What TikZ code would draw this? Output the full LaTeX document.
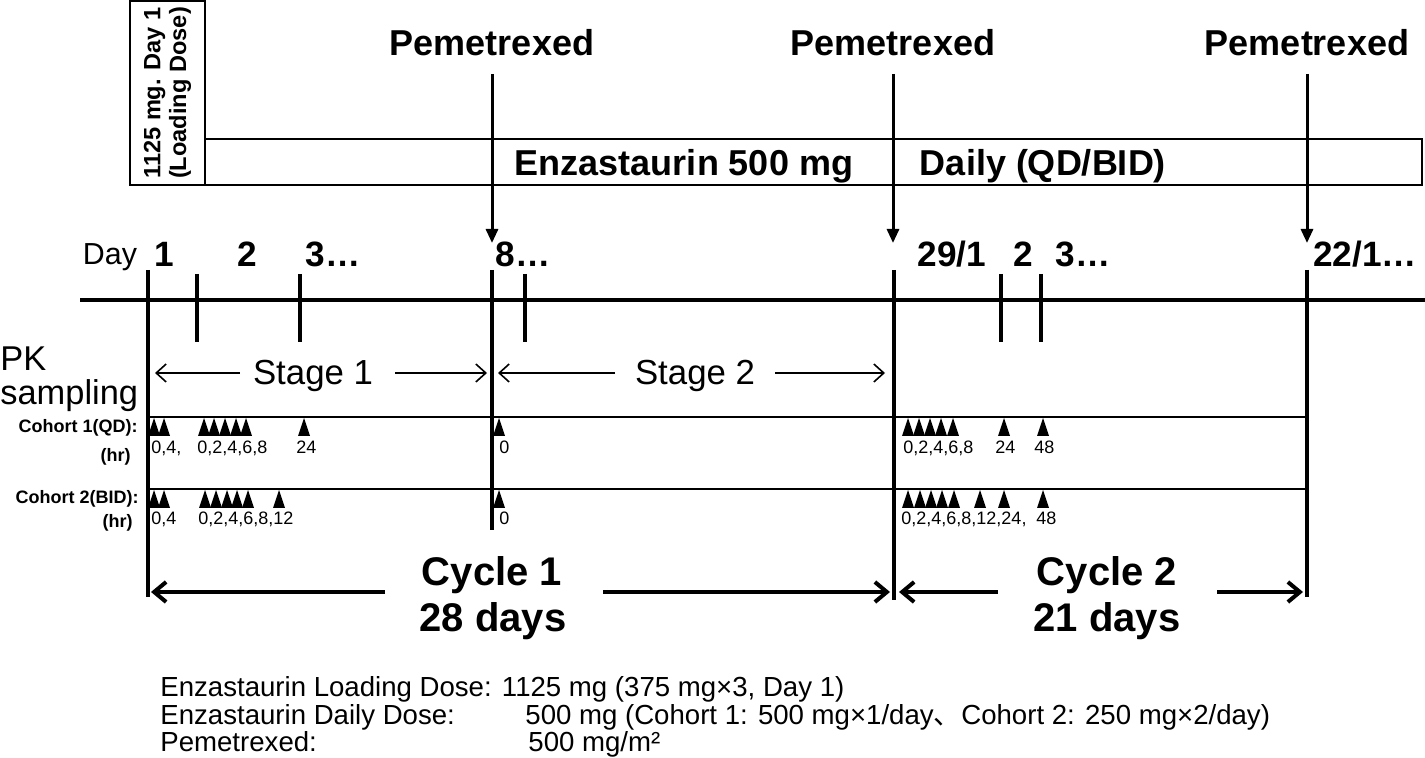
\documentclass[tikz,border=0pt]{standalone}
\usepackage{fontspec}
\setmainfont{Liberation Sans}
\newfontfamily\cjkfont{Noto Sans CJK JP}
\usetikzlibrary{arrows.meta,positioning}

\begin{document}
\begin{tikzpicture}[x=0.5pt, y=-0.5pt,
    lbl/.style={inner sep=0pt, anchor=base},
    headlbl/.style={lbl, font=\fontsize{18}{21}\selectfont\bfseries},
    daylbl/.style={lbl, font=\fontsize{17.6}{21}\selectfont\bfseries},
    plainlbl/.style={lbl, font=\fontsize{17.4}{21}\selectfont},
    cyclbl/.style={lbl, font=\fontsize{20}{24}\selectfont\bfseries},
    cohortlbl/.style={lbl, anchor=base east, font=\fontsize{9}{11}\selectfont\bfseries},
    hrlbl/.style={lbl, anchor=base west, font=\fontsize{9}{11}\selectfont},
    notelbl/.style={lbl, anchor=base west, font=\fontsize{13.8}{16}\selectfont},
    axisline/.style={line width=2pt},
    dayline/.style={line width=1.8pt},
    rowline/.style={line width=0.6pt},
    pemarrow/.style={line width=1.5pt, -{Triangle[length=7pt, width=6pt]}},
    stagearrow/.style={line width=0.8pt, -{Straight Barb[length=5pt, width=9pt]}},
    cycarrow/.style={line width=2pt, -{Straight Barb[length=6pt, width=10pt]}},
    sample/.style={fill=black}]
  \useasboundingbox (0,0) rectangle (1425,758);

  % dosing bars
  \node[draw, line width=1pt, rotate=90, minimum width=92pt, minimum height=37.5pt,
        inner sep=0pt, align=center, font=\fontsize{11.8}{12.8}\selectfont\bfseries]
        (load) at (167.5,93) {1125 mg. Day 1\\(Loading Dose)};
  \node[draw, line width=1pt, minimum width=608.5pt, minimum height=23pt, inner sep=0pt]
        (enza) at (813.5,162) {};
  \node[headlbl] (enzatxt) at (684,176) {Enzastaurin 500 mg};
  \node[headlbl] (dailytxt) at (1043,176) {Daily (QD/BID)};

  % pemetrexed doses
  \foreach \n/\x in {1/492,2/893,3/1307} {
    \node[headlbl] (pem\n) at (\x,56) {Pemetrexed};
    \coordinate (pemtop\n) at (\x,74);
    \coordinate (pemtip\n) at (\x,243);
    \draw[pemarrow] (pemtop\n) -- (pemtip\n);
  }

  % time axis
  \coordinate (axl) at (80,300);
  \coordinate (axr) at (1425,300);
  \draw[axisline] (axl) -- (axr);
  \foreach \n/\x/\yb in {c1/148/597, s2/492/530, c2/894/600, c3/1307/597} {
    \coordinate (\n top) at (\x,270);
    \coordinate (\n bot) at (\x,\yb);
    \draw[dayline] (\n top) -- (\n bot);
  }
  \foreach \n/\x in {a/197, b/300, c/525, d/1001, e/1041} {
    \coordinate (tk\n top) at (\x,274);
    \coordinate (tk\n bot) at (\x,342);
    \draw[dayline] (tk\n top) -- (tk\n bot);
  }

  % day labels
  \node[lbl, font=\fontsize{15.2}{18}\selectfont] (day) at (110,265) {Day};
  \node[daylbl] (d1) at (164,267) {1};
  \node[daylbl] (d2) at (247,267) {2};
  \node[daylbl] (d3) at (333,267) {3…};
  \node[daylbl] (d8) at (523,267) {8…};
  \node[daylbl] (d29) at (952,267) {29/1};
  \node[daylbl] (d2b) at (1023,267) {2};
  \node[daylbl] (d3b) at (1083,267) {3…};
  \node[daylbl] (d22) at (1365,267) {22/1…};

  % PK sampling
  \node[lbl, anchor=base west, font=\fontsize{17.2}{21}\selectfont] (pk) at (0,371) {PK};
  \node[lbl, anchor=base west, font=\fontsize{17.2}{21}\selectfont] (sampling) at (0,405) {sampling};
  \node[plainlbl] (stage1) at (313,385) {Stage 1};
  \node[plainlbl] (stage2) at (695,385) {Stage 2};
  \coordinate (st1a) at (240,373); \coordinate (st1l) at (155,373);
  \coordinate (st1b) at (395,373); \coordinate (st1r) at (487,373);
  \coordinate (st2a) at (615,373); \coordinate (st2l) at (498,373);
  \coordinate (st2b) at (775,373); \coordinate (st2r) at (885,373);
  \draw[stagearrow] (st1a) -- (st1l);
  \draw[stagearrow] (st1b) -- (st1r);
  \draw[stagearrow] (st2a) -- (st2l);
  \draw[stagearrow] (st2b) -- (st2r);

  % cohort rows
  \coordinate (r1l) at (148,417); \coordinate (r1r) at (1307,417);
  \coordinate (r2l) at (148,489); \coordinate (r2r) at (1307,489);
  \draw[rowline] (r1l) -- (r1r);
  \draw[rowline] (r2l) -- (r2r);
  \node[cohortlbl] (co1) at (138,433) {Cohort 1(QD):};
  \node[cohortlbl] (co1hr) at (131,462) {(hr)};
  \node[cohortlbl] (co2) at (139,504) {Cohort 2(BID):};
  \node[cohortlbl] (co2hr) at (133,528) {(hr)};

  \foreach \x in {154,164,204,214,225,236,246,304,499,908,919,930,941,953,1004,1043}
    \fill[sample] (\x-6,436) -- (\x,418) -- (\x+6,436) -- cycle;
  \foreach \x in {154,164,205,216,227,237,248,279,499,908,920,931,942,954,980,1004,1043}
    \fill[sample] (\x-6,508) -- (\x,490) -- (\x+6,508) -- cycle;

  \node[hrlbl] (h1a) at (151,454) {0,4,};
  \node[hrlbl] (h1b) at (197,454) {0,2,4,6,8};
  \node[hrlbl] (h1c) at (296,454) {24};
  \node[hrlbl] (h1d) at (499,454) {0};
  \node[hrlbl] (h1e) at (903,454) {0,2,4,6,8};
  \node[hrlbl] (h1f) at (995,454) {24};
  \node[hrlbl] (h1g) at (1034,454) {48};
  \node[hrlbl] (h2a) at (151,525) {0,4};
  \node[hrlbl] (h2b) at (198,525) {0,2,4,6,8,12};
  \node[hrlbl] (h2c) at (499,525) {0};
  \node[hrlbl] (h2d) at (901,525) {0,2,4,6,8,12,24,};
  \node[hrlbl] (h2e) at (1036,525) {48};

  % cycles
  \node[cyclbl] (cyc1) at (492,586) {Cycle 1};
  \node[cyclbl] (cyc1d) at (493,632) {28 days};
  \node[cyclbl] (cyc2) at (1107,586) {Cycle 2};
  \node[cyclbl] (cyc2d) at (1107,632) {21 days};
  \coordinate (cy1a) at (385,592); \coordinate (cy1l) at (151,592);
  \coordinate (cy1b) at (603,592); \coordinate (cy1r) at (890,592);
  \coordinate (cy2a) at (998,592); \coordinate (cy2l) at (899,592);
  \coordinate (cy2b) at (1217,592); \coordinate (cy2r) at (1303,592);
  \draw[cycarrow] (cy1a) -- (cy1l);
  \draw[cycarrow] (cy1b) -- (cy1r);
  \draw[cycarrow] (cy2a) -- (cy2l);
  \draw[cycarrow] (cy2b) -- (cy2r);

  % dose notes
  \node[notelbl] (note1) at (160,697) {Enzastaurin Loading Dose: 1125 mg (375 mg×3, Day 1)};
  \node[notelbl] (note2) at (160,725) {Enzastaurin Daily Dose:};
  \node[notelbl] (note2v) at (525,725) {500 mg (Cohort 1: 500 mg×1/day{\cjkfont 、}Cohort 2: 250 mg×2/day)};
  \node[notelbl] (note3) at (160,752) {Pemetrexed:};
  \node[notelbl] (note3v) at (528,752) {500 mg/m²};
\end{tikzpicture}
\end{document}
